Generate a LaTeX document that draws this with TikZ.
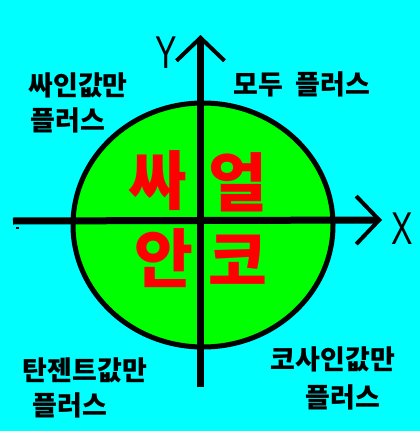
\documentclass[tikz,border=0pt]{standalone}
\usepackage{fontspec}
\newfontfamily\kr{Noto Sans CJK KR}
\newfontfamily\axfont{Liberation Sans}
\usetikzlibrary{arrows.meta}
\definecolor{bgcyan}{RGB}{0,255,255}
\definecolor{circgreen}{RGB}{0,255,0}
\definecolor{bigred}{RGB}{255,0,0}
\tikzset{
  small/.style={inner sep=0pt, font=\kr\bfseries\fontsize{27}{30}\selectfont},
  big/.style={inner sep=0pt, text=bigred, font=\kr\bfseries\fontsize{64}{70}\selectfont},
  axlabel/.style={inner sep=0pt, font=\axfont\fontsize{46}{50}\selectfont},
  axis/.style={line width=7pt, -{Straight Barb[length=23pt,width=48pt,line width=4pt]}},
}
\begin{document}
\begin{tikzpicture}[x=1pt,y=-1pt]
\useasboundingbox (0,0) rectangle (420,431);
\fill[bgcyan] (0,0) rectangle (420,431);
\draw[line width=5pt, fill=circgreen] (203,225) ellipse [x radius=130, y radius=122];
\coordinate (xl) at (13,221);
\coordinate (xr) at (382,220);
\coordinate (yb) at (200.5,387);
\coordinate (yt) at (200.5,35);
\draw[axis] (xl) -- (xr);
\draw[axis] (yb) -- (yt);
\fill (16,227) rectangle (19,229);
\node[axlabel] (ylab) at (166,53) {\scalebox{0.7}[1]{Y}};
\node[axlabel] (xlab) at (402,229) {\scalebox{0.7}[1]{X}};
\node[big] (c1) at (158,181) {싸};
\node[big] (c2) at (238,182) {얼};
\node[big] (c3) at (164,258) {안};
\node[big] (c4) at (238,260) {코};
\node[small] (t1a) at (78,85) {싸인값만};
\node[small] (t1b) at (68,120) {플러스};
\node[small] (t2) at (302,84) {모두\hspace{12pt}플러스};
\node[small] (t3a) at (85,370) {탄젠트값만};
\node[small] (t3b) at (70,405) {플러스};
\node[small] (t4a) at (333,359) {코사인값만};
\node[small] (t4b) at (343,397) {플러스};
\end{tikzpicture}
\end{document}
